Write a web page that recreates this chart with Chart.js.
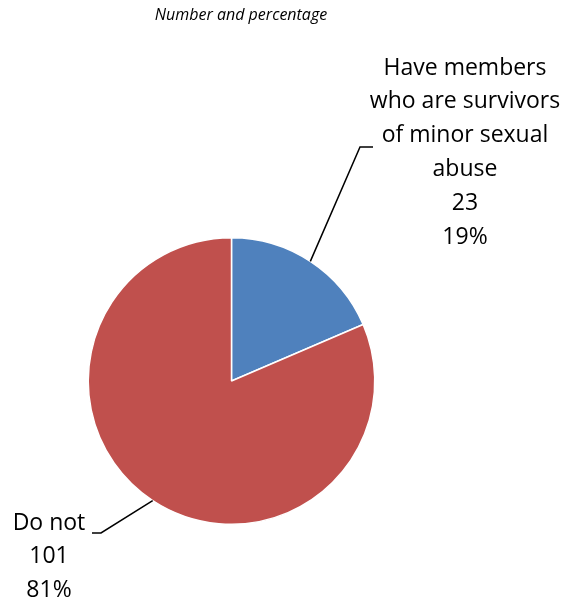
<!DOCTYPE html>
<html>
<head>
<meta charset="utf-8">
<script src="https://cdn.jsdelivr.net/npm/chart.js@4"></script>
<style>
  html, body { margin: 0; padding: 0; background: #fff; }
  #wrap { width: 569px; height: 606px; position: relative; }
</style>
</head>
<body>
<div id="wrap"><canvas id="pieChart"></canvas></div>
<script>
// chart data
const categories = [
  ['Have members', 'who are survivors', 'of minor sexual', 'abuse'],
  ['Do not']
];
const counts = [23, 101];
const sliceColors = ['#4F81BD', '#C0504D'];
const subtitle = 'Number and percentage';

// where each label block sits: centre x, first line y, leader elbow
const labelSpots = [
  { cx: 465, y0: 68, elbow: [360, 147], end: [373, 147] },
  { cx: 49, y0: 523, elbow: [101, 533], end: [92, 533] }
];

const total = counts.reduce((a, b) => a + b, 0);

const pieLabels = {
  id: 'pieLabels',
  afterDraw(chart) {
    const ctx = chart.ctx;
    ctx.save();
    // subtitle
    ctx.fillStyle = '#000';
    ctx.font = 'italic 16px "Open Sans"';
    ctx.textAlign = 'center';
    ctx.textBaseline = 'middle';
    ctx.fillText(subtitle, 241, 15);

    const arcs = chart.getDatasetMeta(0).data;
    arcs.forEach((arc, i) => {
      const p = arc.getProps(['x', 'y', 'startAngle', 'endAngle', 'outerRadius'], true);
      const mid = (p.startAngle + p.endAngle) / 2;
      const sx = p.x + Math.cos(mid) * p.outerRadius;
      const sy = p.y + Math.sin(mid) * p.outerRadius;
      const spot = labelSpots[i];
      ctx.strokeStyle = '#000';
      ctx.lineWidth = 1.5;
      ctx.beginPath();
      ctx.moveTo(sx, sy);
      ctx.lineTo(spot.elbow[0], spot.elbow[1]);
      ctx.lineTo(spot.end[0], spot.end[1]);
      ctx.stroke();

      const lines = categories[i].concat([
        String(counts[i]),
        Math.round(counts[i] / total * 100) + '%'
      ]);
      ctx.font = '23px "Open Sans"';
      ctx.fillStyle = '#000';
      lines.forEach((t, k) => ctx.fillText(t, spot.cx, spot.y0 + k * 33.8));
    });
    ctx.restore();
  }
};

new Chart(document.getElementById('pieChart'), {
  type: 'pie',
  data: {
    labels: categories.map(c => c.join(' ')),
    datasets: [{
      data: counts,
      backgroundColor: sliceColors,
      borderColor: '#fff',
      borderWidth: 1.5
    }]
  },
  options: {
    responsive: true,
    maintainAspectRatio: false,
    animation: false,
    layout: { padding: { left: 87, right: 193, top: 237, bottom: 81 } },
    plugins: {
      legend: { display: false },
      tooltip: { enabled: false }
    }
  },
  plugins: [pieLabels]
});
</script>
</body>
</html>
